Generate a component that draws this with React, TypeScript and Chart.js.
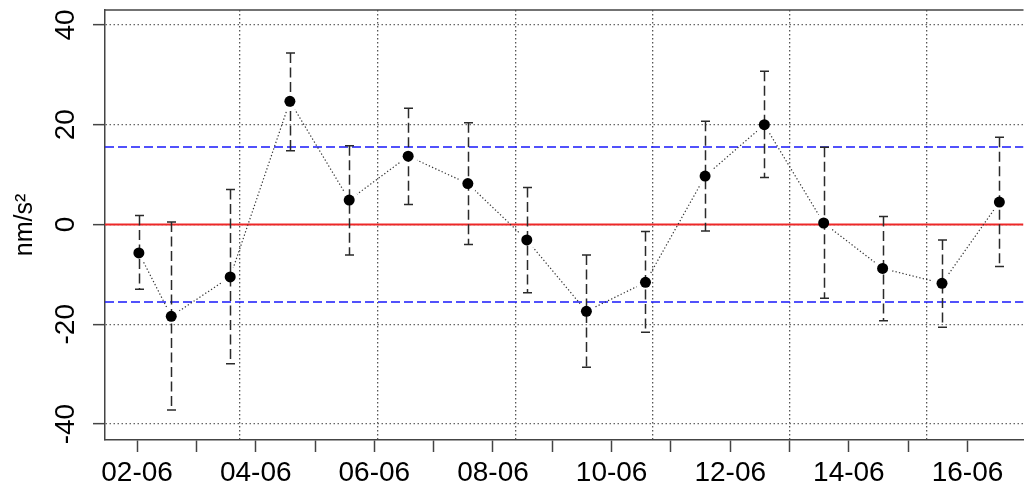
import React, { useEffect, useRef } from "react";
import { Chart, registerables } from "chart.js";

Chart.register(...registerables);

// ---- data ----
const obsDays = [2.03, 2.576, 3.57, 4.576, 5.576, 6.57, 7.576, 8.57, 9.575, 10.571, 11.576, 12.575, 13.575, 14.569, 15.57, 16.537];
const obsValues = [-5.7, -18.4, -10.5, 24.7, 4.9, 13.7, 8.2, -3.1, -17.4, -11.6, 9.7, 20.0, 0.3, -8.8, -11.8, 4.5];
const errUpper = [1.8, 0.5, 7.0, 34.4, 15.8, 23.3, 20.4, 7.4, -6.1, -1.4, 20.7, 30.7, 15.5, 1.6, -3.1, 17.5];
const errLower = [-13.0, -37.2, -27.9, 14.8, -6.1, 4.0, -4.0, -13.7, -28.6, -21.6, -1.3, 9.4, -14.8, -19.3, -20.6, -8.4];

const xTickDays = [2, 3, 4, 5, 6, 7, 8, 9, 10, 11, 12, 13, 14, 15, 16];
const xTickLabels = ["02-06", "", "04-06", "", "06-06", "", "08-06", "", "10-06", "", "12-06", "", "14-06", "", "16-06"];
const xGridDays = [3.733, 6.056, 8.376, 10.688, 12.994, 15.313];
const yTicks = [-40, -20, 0, 20, 40];

const zeroLine = 0;
const bandLimit = 15.55;

const xMin = 1.459;
const xMax = 16.944;
const yMin = -43.2;
const yMax = 43.0;

const FONT = "'Liberation Sans', Arial, Helvetica, sans-serif";

const gapPlugin = {
  id: "gapsAndBars",
  beforeDatasetDraw(chart: any, args: any) {
    const ctx = chart.ctx;
    const xs = chart.scales.x;
    const ys = chart.scales.y;
    if (args.index === 3) {
      const a = chart.chartArea;
      ctx.save();
      ctx.beginPath();
      ctx.rect(a.left, a.top, a.right - a.left, a.bottom - a.top);
      const r = 10;
      obsDays.forEach((d, i) => {
        const px = xs.getPixelForValue(d);
        const py = ys.getPixelForValue(obsValues[i]);
        ctx.moveTo(px + r, py);
        ctx.arc(px, py, r, 0, Math.PI * 2);
      });
      ctx.clip("evenodd");
    }
    if (args.index === 4) {
      ctx.save();
      ctx.strokeStyle = "#2a2a2a";
      ctx.lineWidth = 1.5;
      obsDays.forEach((d, i) => {
        const px = Math.round(xs.getPixelForValue(d)) + 0.5;
        const pt = ys.getPixelForValue(errUpper[i]);
        const pb = ys.getPixelForValue(errLower[i]);
        ctx.setLineDash([10, 4.5]);
        ctx.beginPath();
        ctx.moveTo(px, pt);
        ctx.lineTo(px, pb);
        ctx.stroke();
        ctx.setLineDash([]);
        ctx.beginPath();
        ctx.moveTo(px - 4.5, pt);
        ctx.lineTo(px + 4.5, pt);
        ctx.moveTo(px - 4.5, pb);
        ctx.lineTo(px + 4.5, pb);
        ctx.stroke();
      });
      ctx.restore();
    }
  },
  afterDatasetDraw(chart: any, args: any) {
    if (args.index === 3) {
      chart.ctx.restore();
    }
  },
  afterDraw(chart: any) {
    const ctx = chart.ctx;
    const a = chart.chartArea;
    ctx.save();
    ctx.strokeStyle = "#444";
    ctx.lineWidth = 1.5;
    ctx.beginPath();
    ctx.moveTo(a.left - 0.75, a.top);
    ctx.lineTo(a.right, a.top);
    ctx.stroke();
    ctx.restore();
  },
};

export default function App() {
  const ref = useRef<HTMLCanvasElement | null>(null);

  useEffect(() => {
    if (!ref.current) return;
    const points = obsDays.map((d, i) => ({ x: d, y: obsValues[i] }));
    const chart = new Chart(ref.current, {
      type: "scatter",
      data: {
        datasets: [
          {
            data: [{ x: xMin, y: zeroLine }, { x: xMax, y: zeroLine }],
            showLine: true,
            borderColor: "rgb(238,40,40)",
            borderWidth: 2,
            pointRadius: 0,
            order: 5,
          },
          {
            data: [{ x: xMin, y: bandLimit }, { x: xMax, y: bandLimit }],
            showLine: true,
            borderColor: "rgb(25,25,250)",
            borderWidth: 1.5,
            borderDash: [9, 4],
            pointRadius: 0,
            order: 5,
          },
          {
            data: [{ x: xMin, y: -bandLimit }, { x: xMax, y: -bandLimit }],
            showLine: true,
            borderColor: "rgb(25,25,250)",
            borderWidth: 1.5,
            borderDash: [9, 4],
            pointRadius: 0,
            order: 5,
          },
          {
            data: points,
            showLine: true,
            borderColor: "#333",
            borderWidth: 1.2,
            borderDash: [1.3, 2.2],
            pointRadius: 0,
            order: 3,
          },
          {
            data: points,
            showLine: false,
            pointRadius: 5.5,
            pointBackgroundColor: "#000",
            pointBorderColor: "#000",
            pointBorderWidth: 0,
            order: 1,
          },
        ],
      },
      options: {
        animation: false,
        responsive: true,
        maintainAspectRatio: false,
        devicePixelRatio: 1,
        layout: { padding: { top: 10, left: 0, right: 0, bottom: 0 } },
        plugins: { legend: { display: false }, tooltip: { enabled: false } },
        scales: {
          x: {
            type: "linear",
            position: "bottom",
            min: xMin,
            max: xMax,
            afterBuildTicks: (s: any) => {
              s.ticks = xTickDays.map((v) => ({ value: v }));
            },
            afterFit: (s: any) => {
              s.height = 48;
              s.paddingLeft = 0;
              s.paddingRight = 0;
            },
            ticks: {
              autoSkip: false,
              maxRotation: 0,
              minRotation: 0,
              padding: 4,
              color: "#000",
              font: { family: FONT, size: 28 },
              callback: (v: any) => {
                const i = xTickDays.indexOf(Number(v));
                return i >= 0 ? xTickLabels[i] : "";
              },
            },
            grid: {
              drawOnChartArea: false,
              drawTicks: true,
              tickLength: 12,
              tickColor: "#444",
              tickWidth: 1.5,
            },
            border: { display: true, color: "#444", width: 1.5 },
          },
          x2: {
            type: "linear",
            position: "top",
            min: xMin,
            max: xMax,
            afterBuildTicks: (s: any) => {
              s.ticks = xGridDays.map((v) => ({ value: v }));
            },
            afterFit: (s: any) => {
              s.height = 0;
              s.paddingLeft = 0;
              s.paddingRight = 0;
            },
            ticks: { display: false },
            grid: {
              drawOnChartArea: true,
              drawTicks: false,
              color: "#555",
              lineWidth: 1.3,
            },
            border: { display: false, dash: [1.5, 2.5] },
          },
          y: {
            type: "linear",
            position: "left",
            min: yMin,
            max: yMax,
            afterBuildTicks: (s: any) => {
              s.ticks = yTicks.map((v) => ({ value: v }));
            },
            afterFit: (s: any) => {
              s.width = 105;
              s.paddingTop = 0;
              s.paddingBottom = 0;
            },
            ticks: {
              autoSkip: false,
              minRotation: 90,
              maxRotation: 90,
              crossAlign: "center",
              padding: 6,
              color: "#000",
              font: { family: FONT, size: 28 },
              callback: (v: any) => String(v),
            },
            grid: {
              drawOnChartArea: true,
              drawTicks: true,
              tickLength: 12,
              tickColor: "#444",
              tickWidth: 1.5,
              color: "#666",
              lineWidth: 1.3,
            },
            border: { display: true, color: "#444", width: 1.5, dash: [1.5, 2.5] },
            title: {
              display: true,
              text: "nm/s²",
              color: "#000",
              font: { family: FONT, size: 25 },
              padding: { top: 10, bottom: 0 },
            },
          },
        },
      },
      plugins: [gapPlugin],
    } as any);
    return () => chart.destroy();
  }, []);

  return (
    <div style={{ position: "fixed", left: 0, top: 0, width: 1029, height: 488, background: "#fff" }}>
      <canvas ref={ref} />
    </div>
  );
}
